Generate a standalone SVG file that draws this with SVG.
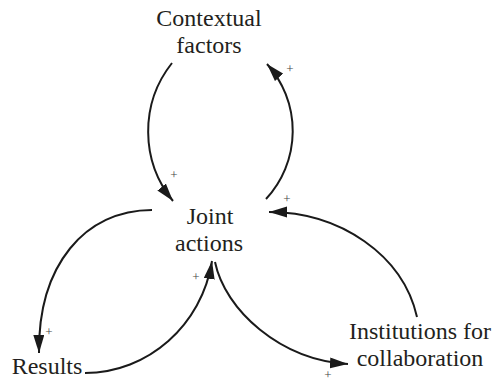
<svg xmlns="http://www.w3.org/2000/svg" width="492" height="381" viewBox="0 0 492 381">
<defs>
<marker id="ah" markerUnits="userSpaceOnUse" markerWidth="20" markerHeight="12" refX="18" refY="5.5" orient="auto">
<path d="M0,0 L18,5.5 L0,11 z" fill="#1a1a1a"/>
</marker>
<style>
.lbl{font-size:24px;fill:#231f20;text-anchor:middle}
.pl{font-size:13px;fill:#444;text-anchor:middle}
.c{fill:none;stroke:#1a1a1a;stroke-width:2;marker-end:url(#ah)}
</style>
</defs>
<rect width="492" height="381" fill="#fff"/>
<g id="contextual" font-family="'Liberation Serif', 'DejaVu Serif', serif">
<text class="lbl" x="209" y="26">Contextual</text>
<text class="lbl" x="209" y="53">factors</text>
</g>
<g id="joint" font-family="'Liberation Serif', 'DejaVu Serif', serif">
<text class="lbl" x="210" y="224">Joint</text>
<text class="lbl" x="209" y="251">actions</text>
</g>
<g id="results" font-family="'Liberation Serif', 'DejaVu Serif', serif">
<text class="lbl" x="47" y="374">Results</text>
</g>
<g id="institutions" font-family="'Liberation Serif', 'DejaVu Serif', serif">
<text class="lbl" x="420" y="339">Institutions for</text>
<text class="lbl" x="420" y="366">collaboration</text>
</g>
<g id="connectors" font-family="'Liberation Serif', 'DejaVu Serif', serif">
<path class="c" d="M172,63 A110,110 0 0 0 173,201"/>
<path class="c" d="M266,199 A100,100 0 0 0 267,64"/>
<path class="c" d="M152,210 C85,210 38,265 39,353"/>
<path class="c" d="M85,373 C148,373 202,325 212,261"/>
<path class="c" d="M215,262 C225,310 280,360 348,364"/>
<path class="c" d="M417,317 C403,255 340,212 269,212"/>
<text class="pl" x="174" y="179">+</text>
<text class="pl" x="290" y="73">+</text>
<text class="pl" x="49" y="336">+</text>
<text class="pl" x="196" y="281">+</text>
<text class="pl" x="328" y="379">+</text>
<text class="pl" x="287" y="203">+</text>
</g>
</svg>
